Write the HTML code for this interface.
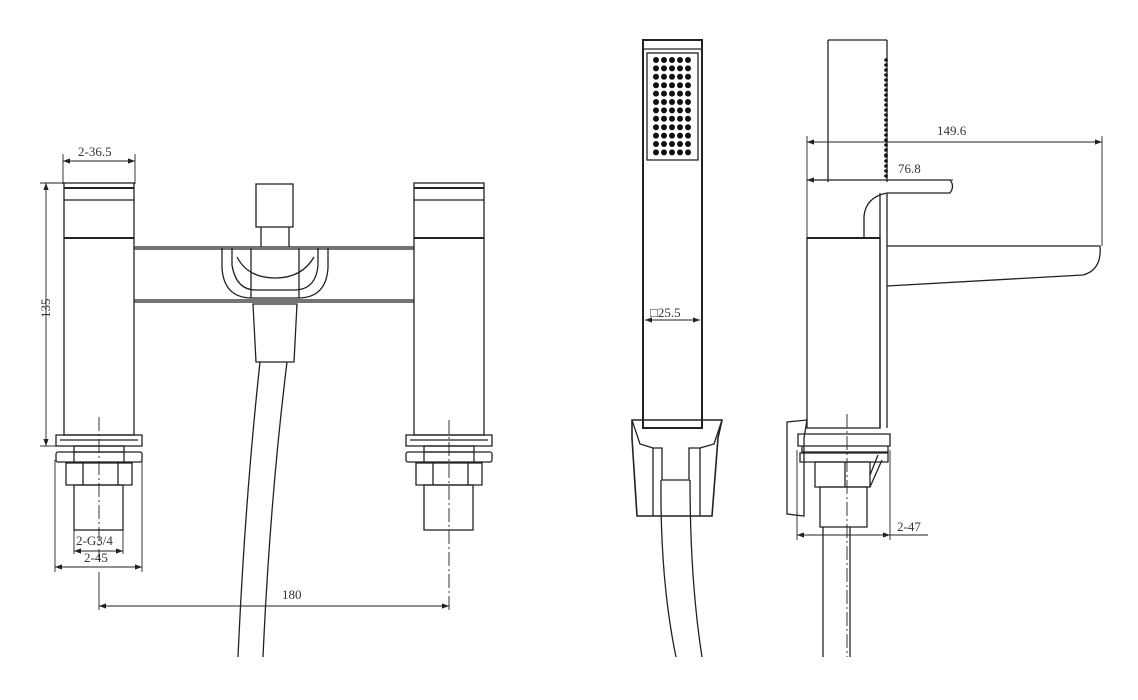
<!DOCTYPE html>
<html><head><style>body{margin:0;background:#fff}svg{display:block}</style></head><body>
<svg width="1138" height="700" viewBox="0 0 1138 700" xmlns="http://www.w3.org/2000/svg" font-family="'Liberation Serif',serif" font-size="13" fill="none" stroke="#222" stroke-width="1.3">
<defs><marker id="a" markerWidth="8" markerHeight="6" refX="8" refY="3" orient="auto-start-reverse"><path d="M0,0L8,3L0,6z" fill="#222" stroke="none"/></marker></defs>
<g fill="#333" stroke="none">
<text x="78" y="156">2-36.5</text>
<text x="30" y="322" transform="rotate(-90 38 310)">135</text>
<text x="76" y="545">2-G3/4</text>
<text x="84" y="562">2-45</text>
<text x="282" y="599">180</text>
<text x="650" y="317">□25.5</text>
<text x="937" y="135">149.6</text>
<text x="898" y="173">76.8</text>
<text x="897" y="531">2-47</text>
</g>
<g stroke-width="0.9">
<line x1="63" y1="161" x2="135" y2="161" marker-start="url(#a)" marker-end="url(#a)"/>
<line x1="63" y1="154" x2="63" y2="184"/><line x1="135" y1="154" x2="135" y2="184"/>
<line x1="46" y1="183" x2="46" y2="446" marker-start="url(#a)" marker-end="url(#a)"/>
<line x1="40" y1="183" x2="64" y2="183"/><line x1="40" y1="446" x2="56" y2="446"/>
<line x1="74" y1="551" x2="123" y2="551" marker-start="url(#a)" marker-end="url(#a)"/>
<line x1="74" y1="530" x2="74" y2="554"/><line x1="123" y1="530" x2="123" y2="554"/>
<line x1="55" y1="567" x2="142" y2="567" marker-start="url(#a)" marker-end="url(#a)"/>
<line x1="55" y1="460" x2="55" y2="572"/><line x1="142" y1="460" x2="142" y2="572"/>
<line x1="99" y1="606" x2="449" y2="606" marker-start="url(#a)" marker-end="url(#a)"/>
<line x1="99" y1="572" x2="99" y2="610"/><line x1="449" y1="420" x2="449" y2="610" stroke-dasharray="14 3 2 3"/>
<line x1="99" y1="417" x2="99" y2="560" stroke-dasharray="14 3 2 3"/>
<line x1="645" y1="320" x2="700" y2="320" marker-start="url(#a)" marker-end="url(#a)"/>
<line x1="807" y1="142" x2="1102" y2="142" marker-start="url(#a)" marker-end="url(#a)"/>
<line x1="807" y1="180" x2="953" y2="180" marker-start="url(#a)"/>
<line x1="1102" y1="136" x2="1102" y2="246"/>
<line x1="807" y1="136" x2="807" y2="238"/>
<line x1="797" y1="535" x2="890" y2="535" marker-start="url(#a)" marker-end="url(#a)"/>
<line x1="890" y1="535" x2="928" y2="535"/>
<line x1="797" y1="450" x2="797" y2="540"/><line x1="890" y1="450" x2="890" y2="540"/>
<line x1="847" y1="414" x2="847" y2="657" stroke-dasharray="14 3 2 3"/>
</g>
<g id="h">
<rect x="64" y="183" width="70" height="252"/>
<line x1="64" y1="188" x2="134" y2="188" stroke-width="2"/>
<line x1="64" y1="200" x2="134" y2="200"/>
<line x1="64" y1="238" x2="134" y2="238" stroke-width="2"/>
<rect x="56" y="435" width="86" height="11"/><line x1="60" y1="440" x2="138" y2="440"/>
<rect x="74" y="446" width="50" height="6"/>
<rect x="56" y="452" width="86" height="10" rx="2"/><line x1="74" y1="452" x2="74" y2="462"/><line x1="124" y1="452" x2="124" y2="462"/>
<path d="M66,463H132V485H66Z M83,463V485 M118,463V485"/>
<rect x="74" y="485" width="49" height="45"/>
</g>
<use href="#h" transform="translate(350,0)"/>
<path d="M134,247H414M134,249H414M134,300H414M134,302H414"/>
<rect x="256" y="184" width="37" height="43"/>
<path d="M261,227V247M289,227V247"/>
<path d="M222,248V268Q224,298 252,298H298Q326,298 328,268V248"/>
<path d="M232,248V265Q236,290 256,290H294Q316,290 318,265V248"/>
<path d="M237,257Q248,278 275,278Q302,278 314,257"/>
<path d="M251,248V298M299,248V298"/>
<path d="M253,304L256,362H294L297,304Z"/>
<path d="M260,362Q245,500 238,657M287,362Q270,500 263,657"/>
<!-- handset front -->
<rect x="643" y="40" width="59" height="388" stroke-width="2"/>
<line x1="643" y1="49" x2="702" y2="49"/>
<rect x="647" y="53" width="51" height="107"/>
<g fill="#111" stroke="none">
<g id="r"><circle cx="656" cy="60" r="3"/><circle cx="664" cy="60" r="3"/><circle cx="672" cy="60" r="3"/><circle cx="680" cy="60" r="3"/><circle cx="688" cy="60" r="3"/></g>
<use href="#r" y="8.4"/><use href="#r" y="16.8"/><use href="#r" y="25.2"/><use href="#r" y="33.6"/><use href="#r" y="42"/><use href="#r" y="50.4"/><use href="#r" y="58.8"/><use href="#r" y="67.2"/><use href="#r" y="75.6"/><use href="#r" y="84"/><use href="#r" y="92.4"/>
</g>
<path d="M632,420L722,420L718,438L712,516H637L632,438Z" stroke-width="1.6"/>
<path d="M632,420L640,444L653,448V516M722,420L714,444L700,448V516M653,448H662V480H689V448H700"/>
<path d="M661,480Q660,580 676,657M690,480Q690,580 702,657"/>
<!-- side view -->
<path d="M828,40V182M887,40V182M828,40H887"/>
<g fill="#111" stroke="none">
<g id="d"><circle cx="886" cy="60" r="1.8"/><circle cx="886" cy="65" r="1.8"/><circle cx="886" cy="70" r="1.8"/><circle cx="886" cy="75" r="1.8"/><circle cx="886" cy="80" r="1.8"/></g>
<use href="#d" y="25"/><use href="#d" y="50"/><use href="#d" y="75"/><use href="#d" y="96"/>
</g>
<path d="M807,180H950Q955,186 950,193H887"/>
<path d="M887,193Q866,197 864,216V238"/>
<path d="M880,193V428M887,193V428"/>
<rect x="807" y="238" width="73" height="190"/>
<line x1="807" y1="238" x2="880" y2="238" stroke-width="2"/>
<path d="M887,246H1100Q1102,270 1083,275L887,286"/>
<path d="M798,434H890V446H798Z M802,446H888V452H802Z M800,453H888V462H800Z"/>
<path d="M815,462H870V487H815Z M845,462V487"/>
<path d="M820,487H867V527H820Z"/>
<path d="M807,420L787,422V514L804,516V438Z"/>
<path d="M870,475L878,455M870,487L882,460"/>
<path d="M823,527V657M850,527V657"/>
</svg>
</body></html>
